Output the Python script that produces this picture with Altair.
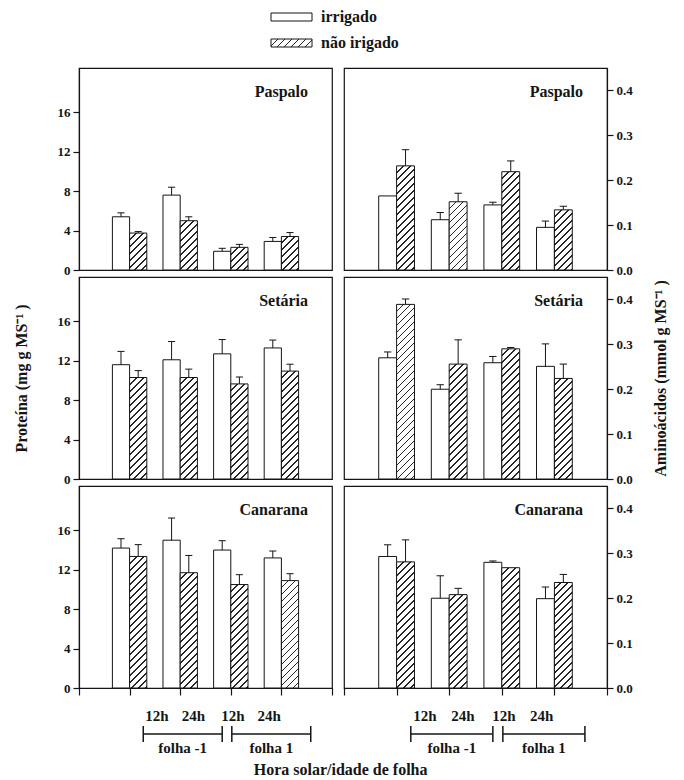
import altair as alt

SERIF = "Liberation Serif"
INK = "#151515"

# ---------------- data ----------------
species = ["Paspalo", "Setária", "Canarana"]
treatments = ["irrigado", "não irigado"]
time_labels = ["12h", "24h", "12h", "24h"]        # four groups along x
leaf_labels = ["folha -1", "folha 1"]

prot_ticks = [0, 4, 8, 12, 16]
amino_ticks = [0.0, 0.1, 0.2, 0.3, 0.4]

# Proteína (mg g MS-1): mean and standard error (upper bar)
paspalo_prot_irr = [5.4, 7.6, 1.9, 2.9]
paspalo_prot_irr_se = [0.4, 0.8, 0.3, 0.4]
paspalo_prot_nirr = [3.75, 5.0, 2.3, 3.4]
paspalo_prot_nirr_se = [0.15, 0.4, 0.3, 0.4]

setaria_prot_irr = [11.6, 12.1, 12.7, 13.3]
setaria_prot_irr_se = [1.35, 1.85, 1.45, 0.8]
setaria_prot_nirr = [10.3, 10.3, 9.65, 10.95]
setaria_prot_nirr_se = [0.7, 0.85, 0.7, 0.7]

canarana_prot_irr = [14.2, 15.0, 14.0, 13.2]
canarana_prot_irr_se = [0.95, 2.25, 0.95, 0.7]
canarana_prot_nirr = [13.35, 11.7, 10.5, 10.9]
canarana_prot_nirr_se = [1.2, 1.75, 1.0, 0.7]

# Aminoácidos (mmol g MS-1)
paspalo_amino_irr = [0.165, 0.112, 0.145, 0.095]
paspalo_amino_irr_se = [0.0, 0.016, 0.006, 0.014]
paspalo_amino_nirr = [0.232, 0.152, 0.219, 0.134]
paspalo_amino_nirr_se = [0.036, 0.019, 0.024, 0.008]

setaria_amino_irr = [0.270, 0.200, 0.259, 0.251]
setaria_amino_irr_se = [0.013, 0.010, 0.014, 0.050]
setaria_amino_nirr = [0.389, 0.256, 0.290, 0.224]
setaria_amino_nirr_se = [0.012, 0.054, 0.003, 0.032]

canarana_amino_irr = [0.293, 0.200, 0.280, 0.199]
canarana_amino_irr_se = [0.026, 0.050, 0.003, 0.026]
canarana_amino_nirr = [0.281, 0.208, 0.268, 0.235]
canarana_amino_nirr_se = [0.049, 0.014, 0.0, 0.018]

# ---------------- layout / style ----------------
PW = {"L": 253, "R": 263}
PH = 202
XMAX = 5
BAR = 0.34
CAP = 0.07
PROT_MAX = 20.5
AMINO_MAX = 0.45
HOUR_CENTERS = [1.9, 3.4]      # where the 12h/24h pairs sit under each panel
BRACKET_CENTERS = [2.05, 3.8]  # where the folha brackets sit


def hatch_fill(w, h, step=7.0, thick=1.9):
    """Diagonal '/' hatching as a hard-stop linear gradient for a w x h px box."""
    total = w + h
    stops = [{"offset": 0, "color": "white"}]
    m = 1
    while m * step - thick / 2 < total:
        c = m * step
        a = max(0.0, (c - thick / 2) / total)
        b = min(1.0, (c + thick / 2) / total)
        stops += [
            {"offset": a, "color": "white"},
            {"offset": a, "color": "#262626"},
            {"offset": b, "color": "#262626"},
            {"offset": b, "color": "white"},
        ]
        m += 1
    stops.append({"offset": 1, "color": "white"})
    k = total / (w * w + h * h)
    return {"gradient": "linear", "x1": 0, "y1": 0, "x2": k * w, "y2": k * h, "stops": stops}


def panel(name, col, irr, irr_se, nirr, nirr_se, ymax, ticks, fmt, bottom, ytitle, legend):
    w = PW[col]
    recs = []
    for i in range(len(time_labels)):
        g = i + 1
        for t, (vals, ses) in enumerate([(irr, irr_se), (nirr, nirr_se)]):
            v, se = vals[i], ses[i]
            x0 = g - BAR if t == 0 else g
            x1 = x0 + BAR
            xc = (x0 + x1) / 2
            fill = "white" if t == 0 else hatch_fill(BAR * w / XMAX, v / ymax * PH)
            recs.append(dict(treatment=treatments[t], x0=x0, x1=x1, xc=xc,
                             c0=xc - CAP, c1=xc + CAP, mean=v, upper=v + se,
                             zero=0, fill=fill))
    base = alt.Chart(alt.Data(values=recs))
    xs = alt.Scale(domain=[0, XMAX], nice=False, zero=False)
    ys = alt.Scale(domain=[0, ymax], nice=False)

    if bottom:
        xaxis = alt.Axis(values=list(range(XMAX + 1)), labels=False, tickSize=7,
                         domain=True, grid=False, title=None)
    else:
        xaxis = None

    yaxis_kw = dict(values=ticks, format=fmt, tickSize=6, labelPadding=3, grid=False,
                    domain=True, orient="left" if col == "L" else "right")
    if ytitle:
        yaxis_kw["title"] = ytitle
        yaxis_kw["titlePadding"] = 28 if col == "L" else 36
        if col == "R":
            yaxis_kw["titleAngle"] = 270
    else:
        yaxis_kw["title"] = None
    yaxis = alt.Axis(**yaxis_kw)

    bars = base.mark_rect(stroke=INK, strokeWidth=1).encode(
        x=alt.X("x0:Q", scale=xs, axis=xaxis),
        x2=alt.X2("x1"),
        y=alt.Y("mean:Q", scale=ys, axis=yaxis),
        y2=alt.Y2("zero"),
        fill=alt.Fill("fill:N", scale=None),
    )
    err = base.transform_filter("datum.upper > datum.mean").mark_rule(
        color=INK, strokeWidth=1).encode(x="xc:Q", y="mean:Q", y2=alt.Y2("upper"))
    cap = base.transform_filter("datum.upper > datum.mean").mark_rule(
        color=INK, strokeWidth=1).encode(x="c0:Q", x2=alt.X2("c1"), y="upper:Q")
    label = alt.Chart(alt.Data(values=[{"name": name}])).mark_text(
        align="right", baseline="middle", font=SERIF, fontSize=16,
        fontWeight="bold", color=INK).encode(
        text="name:N", x=alt.value(w - 24), y=alt.value(24))
    layers = [bars, err, cap, label]

    if bottom:
        hrs = []
        for j, lf in enumerate(leaf_labels):
            for k in range(2):
                hrs.append({"pos": HOUR_CENTERS[j] + (-0.36 if k == 0 else 0.36),
                            "label": time_labels[2 * j + k]})
        brk = [{"start": c - 0.78, "end": c + 0.78, "mid": c, "label": lf}
               for c, lf in zip(BRACKET_CENTERS, leaf_labels)]
        tstyle = dict(font=SERIF, fontSize=15, fontWeight="bold", color=INK,
                      align="center", baseline="middle")
        layers.append(alt.Chart(alt.Data(values=hrs)).mark_text(**tstyle).encode(
            x="pos:Q", y=alt.value(PH + 28), text="label:N"))
        bd = alt.Chart(alt.Data(values=brk))
        layers.append(bd.mark_rule(color=INK, strokeWidth=1.5).encode(
            x="start:Q", x2=alt.X2("end"), y=alt.value(PH + 46)))
        layers.append(bd.mark_rule(color=INK, strokeWidth=1.5).encode(
            x="start:Q", y=alt.value(PH + 38), y2=alt.value(PH + 54)))
        layers.append(bd.mark_rule(color=INK, strokeWidth=1.5).encode(
            x="end:Q", y=alt.value(PH + 38), y2=alt.value(PH + 54)))
        layers.append(bd.mark_text(**tstyle).encode(
            x="mid:Q", y=alt.value(PH + 60), text="label:N"))

    if legend:
        for i, tr in enumerate(treatments):
            y0 = -55 + 26 * i
            fill = "white" if i == 0 else hatch_fill(41, 8, step=7.0)
            ld = alt.Chart(alt.Data(values=[{"label": tr}]))
            layers.append(ld.mark_rect(fill=fill, stroke=INK, strokeWidth=1).encode(
                x=alt.value(192), x2=alt.value(233), y=alt.value(y0), y2=alt.value(y0 + 8)))
            layers.append(ld.mark_text(align="left", baseline="middle", font=SERIF,
                                       fontSize=16, fontWeight="bold", color=INK).encode(
                x=alt.value(242), y=alt.value(y0 + 4), text="label:N"))

    return alt.layer(*layers).properties(width=w, height=PH)


prot_title = "Proteína  (mg g MS⁻¹ )"
amino_title = "Aminoácidos  (mmol g MS⁻¹ )"

rows = [
    (species[0], paspalo_prot_irr, paspalo_prot_irr_se, paspalo_prot_nirr, paspalo_prot_nirr_se,
     paspalo_amino_irr, paspalo_amino_irr_se, paspalo_amino_nirr, paspalo_amino_nirr_se),
    (species[1], setaria_prot_irr, setaria_prot_irr_se, setaria_prot_nirr, setaria_prot_nirr_se,
     setaria_amino_irr, setaria_amino_irr_se, setaria_amino_nirr, setaria_amino_nirr_se),
    (species[2], canarana_prot_irr, canarana_prot_irr_se, canarana_prot_nirr, canarana_prot_nirr_se,
     canarana_amino_irr, canarana_amino_irr_se, canarana_amino_nirr, canarana_amino_nirr_se),
]

panels = []
for r, (nm, pi, pis, pn, pns, ai, ais, an, ans) in enumerate(rows):
    bottom = r == len(rows) - 1
    panels.append(panel(nm, "L", pi, pis, pn, pns, PROT_MAX, prot_ticks, "d", bottom,
                        prot_title if r == 1 else None, legend=(r == 0)))
    panels.append(panel(nm, "R", ai, ais, an, ans, AMINO_MAX, amino_ticks, ".1f", bottom,
                        amino_title if r == 1 else None, legend=False))

chart = alt.concat(
    *panels, columns=2, spacing={"row": 7, "column": 12}, bounds="flush",
    title=alt.TitleParams("Hora solar/idade de folha", orient="bottom", anchor="middle",
                          font=SERIF, fontSize=16, fontWeight="bold", color=INK, offset=5),
).properties(
    padding={"left": 12, "top": 8, "right": 4, "bottom": 2},
    background="white",
).configure_view(
    stroke=INK, strokeWidth=1.2
).configure_axis(
    labelFont=SERIF, labelFontWeight="bold", labelFontSize=13, labelColor=INK,
    titleFont=SERIF, titleFontWeight="bold", titleFontSize=16, titleColor=INK,
    domainColor=INK, tickColor=INK, domainWidth=1.2, tickWidth=1.2,
)

chart.save("out.html", embed_options={"renderer": "svg", "actions": False})
